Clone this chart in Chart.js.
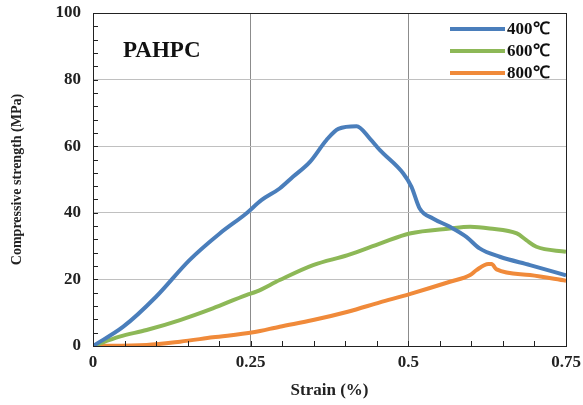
<!DOCTYPE html>
<html>
<head>
<meta charset="utf-8">
<script src="https://cdn.jsdelivr.net/npm/chart.js@4.4.1/dist/chart.umd.min.js"></script>
<style>
  html, body { margin: 0; padding: 0; background: #fff; }
  #wrap { width: 583px; height: 405px; }
</style>
</head>
<body>
<div id="wrap"><canvas id="chart" width="583" height="405"></canvas></div>
<script>
// data (strain %, MPa)
var strain400 = [0, 0.048, 0.10, 0.153, 0.201, 0.243, 0.267, 0.296, 0.317, 0.344, 0.370, 0.389, 0.418, 0.439, 0.455, 0.492, 0.505, 0.518, 0.539, 0.566, 0.592, 0.613, 0.645, 0.693, 0.75];
var stress400 = [0, 5.8, 14.8, 25.8, 33.8, 39.8, 43.8, 47.3, 50.8, 55.3, 61.8, 65.2, 66, 62.3, 58.8, 51.8, 47.8, 41.3, 38.3, 35.8, 32.8, 29.3, 26.8, 24.3, 21.2];

var strain600 = [0, 0.042, 0.085, 0.138, 0.190, 0.243, 0.259, 0.296, 0.349, 0.404, 0.458, 0.502, 0.566, 0.598, 0.629, 0.672, 0.687, 0.703, 0.75];
var stress600 = [0, 2.8, 4.8, 7.8, 11.3, 15.3, 16.3, 19.8, 24.3, 27.3, 31, 33.8, 35.3, 35.8, 35.3, 33.8, 31.8, 29.8, 28.3];

var strain800 = [0, 0.085, 0.138, 0.190, 0.254, 0.296, 0.349, 0.404, 0.455, 0.502, 0.566, 0.598, 0.608, 0.627, 0.632, 0.640, 0.693, 0.75];
var stress800 = [0, 0.3, 1.3, 2.6, 4.1, 5.8, 7.8, 10.3, 13.1, 15.6, 19.3, 21.3, 22.8, 24.6, 24.6, 23, 21.3, 19.6];

var seriesNames = ["400\u2103", "600\u2103", "800\u2103"];
var seriesColors = ["#4a7ebb", "#8db857", "#f08a3a"];

var xTicks = [0, 0.25, 0.5, 0.75];

var serif = "'Liberation Serif', 'Times New Roman', serif";

function pts(xs, ys) {
    var out = [];
    for (var i = 0; i < xs.length; i++) out.push({ x: xs[i], y: ys[i] });
    return out;
}

function isMajor(v) {
    return xTicks.some(function (t) { return Math.abs(t - v) < 1e-6; });
}

// box, inner minor ticks, label and legend
var decor = {
    id: 'decor',
    afterDatasetsDraw: function (chart) {
        var ctx = chart.ctx, a = chart.chartArea;
        var xs = chart.scales.x, ys = chart.scales.y;
        ctx.save();
        ctx.strokeStyle = '#222';
        ctx.lineWidth = 1;
        ctx.beginPath();
        for (var v = 0.05; v < 0.75; v += 0.05) {
            var px = Math.round(xs.getPixelForValue(v)) + 0.5;
            ctx.moveTo(px, a.bottom);
            ctx.lineTo(px, a.bottom - 5);
        }
        for (var w = 4; w < 100; w += 4) {
            var py = Math.round(ys.getPixelForValue(w)) + 0.5;
            ctx.moveTo(a.left, py);
            ctx.lineTo(a.left + 5, py);
        }
        ctx.stroke();
        ctx.strokeRect(Math.round(a.left) + 0.5, Math.round(a.top) + 0.5, Math.round(a.right - a.left), Math.round(a.bottom - a.top));

        ctx.fillStyle = '#111';
        ctx.font = 'bold 23px ' + serif;
        ctx.textBaseline = 'alphabetic';
        ctx.fillText('PAHPC', 123, 57);

        ctx.font = 'bold 17px ' + serif;
        ctx.textBaseline = 'middle';
        chart.data.datasets.forEach(function (ds, i) {
            var y = 29 + i * 22;
            ctx.strokeStyle = ds.borderColor;
            ctx.lineWidth = 4;
            ctx.beginPath();
            ctx.moveTo(450, y);
            ctx.lineTo(505, y);
            ctx.stroke();
            ctx.fillStyle = '#111';
            ctx.fillText(ds.label, 507, y + 1);
        });
        ctx.restore();
    }
};

var datasets = [
    pts(strain400, stress400),
    pts(strain600, stress600),
    pts(strain800, stress800)
].map(function (d, i) {
    return {
        label: seriesNames[i],
        data: d,
        borderColor: seriesColors[i],
        borderWidth: 4,
        pointRadius: 0,
        cubicInterpolationMode: 'monotone',
        fill: false
    };
});

var ctx = document.getElementById('chart').getContext('2d');
var chart = new Chart(ctx, {
    type: 'line',
    data: { datasets: datasets },
    options: {
        responsive: false,
        animation: false,
        layout: { padding: { top: 13, right: 17, left: 0, bottom: 0 } },
        plugins: { legend: { display: false }, tooltip: { enabled: false } },
        scales: {
            x: {
                type: 'linear',
                min: 0,
                max: 0.75,
                afterFit: function (s) { s.height = 59; s.paddingLeft = 0; s.paddingRight = 0; },
                ticks: {
                    stepSize: 0.05,
                    autoSkip: false,
                    maxRotation: 0,
                    padding: 6,
                    color: '#222',
                    font: { family: serif, size: 17, weight: 'bold' },
                    callback: function (v) { return isMajor(v) ? String(+v.toFixed(2)) : ''; }
                },
                grid: {
                    drawTicks: false,
                    color: function (c) {
                        var v = c.tick.value;
                        return (isMajor(v) && v > 0 && v < 0.75) ? '#8c8c8c' : 'rgba(0,0,0,0)';
                    }
                },
                border: { display: false },
                title: {
                    display: true,
                    text: 'Strain (%)',
                    color: '#222',
                    font: { family: serif, size: 17, weight: 'bold' },
                    padding: { top: 2, bottom: 4 }
                }
            },
            y: {
                min: 0,
                max: 100,
                afterFit: function (s) { s.width = 93; s.paddingTop = 0; s.paddingBottom = 0; },
                ticks: {
                    stepSize: 20,
                    padding: 12,
                    color: '#222',
                    font: { family: serif, size: 17, weight: 'bold' }
                },
                grid: {
                    drawTicks: false,
                    color: function (c) {
                        var v = c.tick.value;
                        return (v > 0 && v < 100) ? '#c0c0c0' : 'rgba(0,0,0,0)';
                    }
                },
                border: { display: false },
                title: {
                    display: true,
                    text: 'Compressive strength (MPa)',
                    color: '#222',
                    font: { family: serif, size: 14, weight: 'bold' },
                    padding: { top: 9, bottom: 0 }
                }
            }
        }
    },
    plugins: [decor]
});
</script>
</body>
</html>
